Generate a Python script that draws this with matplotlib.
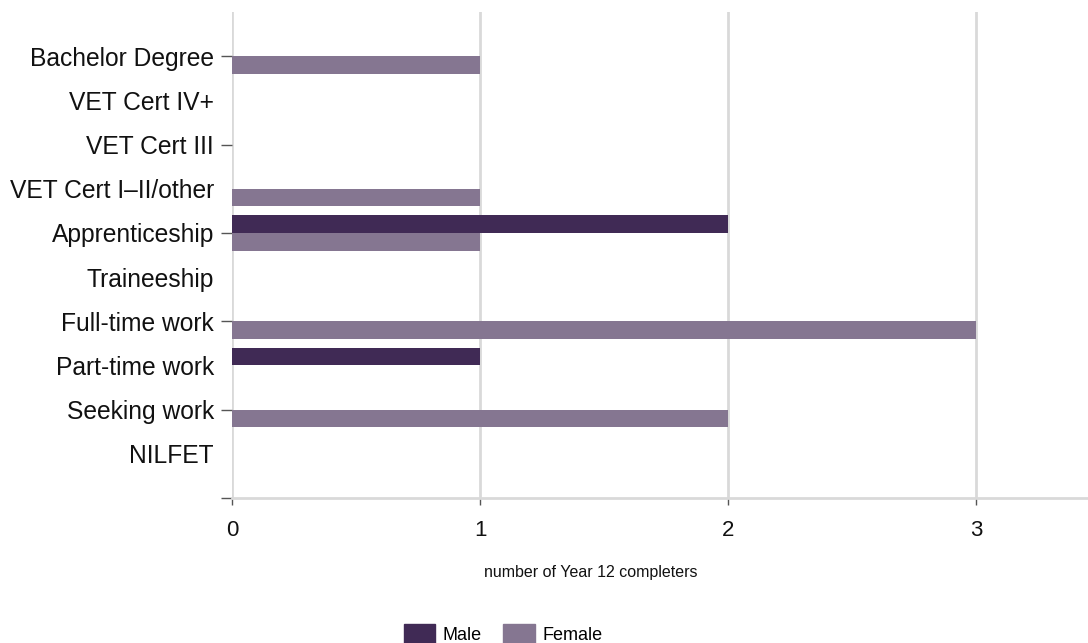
import matplotlib
matplotlib.use("Agg")
import matplotlib.pyplot as plt
import numpy as np
from matplotlib.patches import Patch

categories = ["Bachelor Degree", "VET Cert IV+", "VET Cert III", "VET Cert I\u2013II/other",
              "Apprenticeship", "Traineeship", "Full-time work", "Part-time work",
              "Seeking work", "NILFET"]
male = [0, 0, 0, 0, 2, 0, 0, 1, 0, 0]
female = [1, 0, 0, 1, 1, 0, 3, 0, 2, 0]
series_names = ["Male", "Female"]
colors = ["#402a55", "#857691"]

plt.rcParams['font.family'] = ['Liberation Sans', 'DejaVu Sans']

W, H = 1088, 643
fig = plt.figure(figsize=(W/100, H/100), dpi=100)
ax = fig.add_axes([232/W, 1-498/H, 1-232/W, (498-12)/H])

pos = np.arange(len(categories))
bh = 0.4
ax.barh(pos - bh/2, male, height=bh, color=colors[0], linewidth=0, zorder=3)
ax.barh(pos + bh/2, female, height=bh, color=colors[1], linewidth=0, zorder=3)

ax.set_ylim(10, -1)
ax.set_xlim(0, (W-232)/248)

ax.set_yticks(pos)
ax.set_yticklabels(categories, fontsize=17.7, color="#111111")
ax.tick_params(axis='y', length=8, width=1, color="#555555", pad=5)
for i, t in enumerate(ax.yaxis.get_major_ticks()):
    if i % 2:
        t.tick1line.set_visible(False)
ax.set_yticks([10], minor=True)
ax.tick_params(axis='y', which='minor', length=8, width=1, color="#555555")

ax.set_xticks([0, 1, 2, 3])
ax.tick_params(axis='x', length=5, width=1, color="#555555", pad=11, labelsize=16, labelcolor="#111111")

ax.grid(axis='x', color="#d9d9d9", linewidth=2, zorder=0)
for s in ["top", "right", "left"]:
    ax.spines[s].set_visible(False)
ax.spines["bottom"].set_color("#d9d9d9")
ax.spines["bottom"].set_linewidth(2)

fig.text(591/W, 1-573/H, "number of Year 12 completers", ha="center", va="center", fontsize=11.5, color="#111111")

handles = [Patch(facecolor=c, edgecolor=c) for c in colors]
fig.legend(handles, series_names, loc="center", bbox_to_anchor=(503/W, 1-634/H), ncol=2, frameon=False,
           fontsize=13, handlelength=1.75, handleheight=1.3, columnspacing=1.2, handletextpad=0.4)

fig.savefig("out.png", dpi=100)
